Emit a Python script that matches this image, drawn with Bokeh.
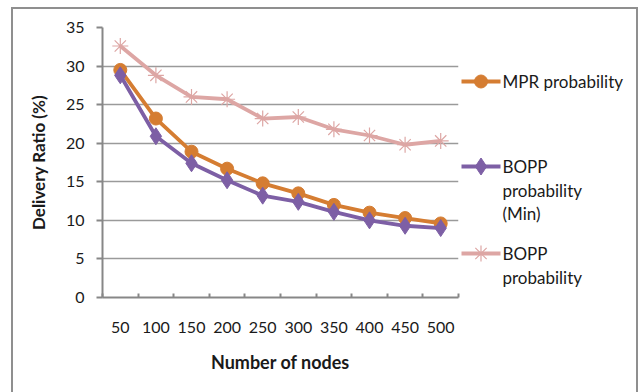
from bokeh.plotting import figure
from bokeh.layouts import row
from bokeh.models import FixedTicker, Range1d
from bokeh.core.properties import value
from bokeh.embed import file_html
from bokeh.resources import INLINE

nodes = ["50", "100", "150", "200", "250", "300", "350", "400", "450", "500"]
mpr = [29.5, 23.2, 18.9, 16.7, 14.8, 13.5, 12.0, 11.0, 10.3, 9.6]
bopp_min = [28.8, 20.9, 17.4, 15.2, 13.2, 12.4, 11.1, 10.0, 9.3, 9.0]
bopp = [32.6, 28.8, 26.0, 25.7, 23.2, 23.4, 21.8, 21.0, 19.8, 20.3]
y_ticks = [0, 5, 10, 15, 20, 25, 30, 35]
series_names = ["MPR probability", "BOPP\nprobability\n(Min)", "BOPP\nprobability"]

xs = list(range(1, len(nodes) + 1))
FONT = "Lato"
GRAY = "#878787"
ORANGE = "#D57D32"
PURPLE = "#7D5FA5"
PINK = "#DDA6A4"
TXT = "#1a1a1a"

p = figure(width=447, height=383, output_backend="svg", toolbar_location=None,
           x_range=Range1d(0.5, len(nodes) + 0.5), y_range=Range1d(0, 35),
           min_border_left=89, min_border_right=2, min_border_top=18,
           min_border_bottom=95)
p.outline_line_color = None
p.background_fill_color = "white"
p.border_fill_color = "white"

xa = p.xaxis[0]
xa.ticker = FixedTicker(ticks=xs, minor_ticks=[x - 0.5 for x in xs] + [len(xs) + 0.5])
xa.major_label_overrides = {x: n for x, n in zip(xs, nodes)}
xa.major_tick_line_color = None
xa.minor_tick_in = 4
xa.minor_tick_out = 0
xa.minor_tick_line_color = GRAY
xa.minor_tick_line_width = 2
xa.axis_line_color = GRAY
xa.axis_line_width = 2
xa.major_label_standoff = 18
xa.major_label_text_font = FONT
xa.major_label_text_font_size = "16px"
xa.major_label_text_color = TXT
xa.axis_label = "Number of nodes"
xa.axis_label_text_font = FONT
xa.axis_label_text_font_style = "bold"
xa.axis_label_text_font_size = "18px"
xa.axis_label_text_color = TXT
xa.axis_label_standoff = 15

ya = p.yaxis[0]
ya.ticker = FixedTicker(ticks=y_ticks)
ya.minor_tick_line_color = None
ya.major_tick_in = 0
ya.major_tick_out = 6
ya.major_tick_line_color = GRAY
ya.major_tick_line_width = 2
ya.axis_line_color = GRAY
ya.axis_line_width = 2
ya.major_label_standoff = 12
ya.major_label_text_font = FONT
ya.major_label_text_font_size = "16px"
ya.major_label_text_color = TXT
ya.axis_label = "Delivery Ratio (%)"
ya.axis_label_text_font = FONT
ya.axis_label_text_font_style = "bold"
ya.axis_label_text_font_size = "17px"
ya.axis_label_text_color = TXT
ya.axis_label_standoff = 14

p.xgrid.grid_line_color = None
p.ygrid.grid_line_color = "#9a9a9a"
p.ygrid.grid_line_width = 1.5
p.ygrid.ticker = FixedTicker(ticks=y_ticks[1:])

series = [
    (mpr, ORANGE, dict(marker="circle", size=13, fill_color=ORANGE, line_color=ORANGE)),
    (bopp_min, PURPLE, dict(marker="diamond", size=17, fill_color=PURPLE, line_color=PURPLE)),
    (bopp, PINK, dict(marker="asterisk", size=16, line_color=PINK, line_width=1.2)),
]
for vals, col, mk in series:
    p.line(xs, vals, line_color=col, line_width=3.8)
    p.scatter(xs, vals, **mk)

# ---- legend panel: its frame is aligned with the chart frame; ranges are in page pixels ----
LW = 176
leg = figure(width=LW, height=383, output_backend="svg", toolbar_location=None,
             x_range=Range1d(460, 460 + LW), y_range=Range1d(297, 27),
             x_axis_location=None, y_axis_location=None,
             min_border_left=0, min_border_right=0, min_border_top=18, min_border_bottom=95)
leg.outline_line_color = None
leg.xgrid.visible = False
leg.ygrid.visible = False
leg.background_fill_color = "white"
leg.border_fill_color = "white"

row_y = [81, 166, 253]
line_step = 23.5
for (vals, col, mk), name, yy in zip(series, series_names, row_y):
    leg.line([461, 500], [yy, yy], line_color=col, line_width=3.8)
    leg.scatter([480.5], [yy], **mk)
    lines = name.split("\n")
    leg.text(x=[502] * len(lines), y=[yy + i * line_step for i in range(len(lines))],
             text=lines, text_font=value(FONT), text_font_size="17px",
             text_color=TXT, text_baseline="middle", text_align="left")

layout = row(p, leg, spacing=0)
layout.margin = (7, 0, 0, 11)
layout.styles = {"border": "2px solid #8f8f8f", "border-bottom": "none"}

open("out.html", "w").write(file_html(layout, INLINE))
